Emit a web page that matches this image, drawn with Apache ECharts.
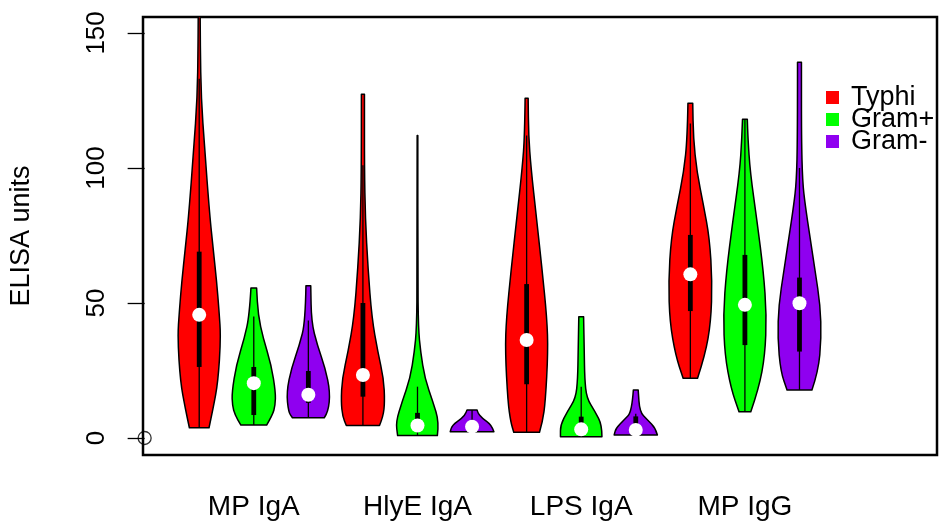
<!DOCTYPE html>
<html>
<head>
<meta charset="utf-8">
<script src="https://cdn.jsdelivr.net/npm/echarts@6/dist/echarts.min.js"></script>
<style>
  html, body { margin: 0; padding: 0; background: #fff; }
  #main { width: 939px; height: 522px; }
</style>
</head>
<body>
<div id="main"></div>
<script>
// groups on the x axis, one violin per organism in each group
const categories = ['MP IgA', 'HlyE IgA', 'LPS IgA', 'MP IgG'];
const groupNames = ['Typhi', 'Gram+', 'Gram-'];
const groupColors = ['#ff0000', '#00ff00', '#8f00f0'];
const yTicks = [0, 50, 100, 150];

// violin outlines: [ELISA value, relative density], bottom to top
const typhiShapes = [
  [[3.8, 0.45], [11, 0.64], [20.7, 0.86], [37, 0.99], [47, 0.91], [57.8, 0.80], [70, 0.64], [82.6, 0.48], [107, 0.25], [126, 0.09], [145, 0.05], [165, 0.04]],
  [[4.6, 0.76], [8, 0.93], [13.5, 1.0], [22, 0.95], [32, 0.68], [44.4, 0.41], [63, 0.23], [81.5, 0.11], [100, 0.07], [127.3, 0.07]],
  [[2.1, 0.59], [6, 0.73], [13.5, 0.86], [32, 0.98], [44.4, 0.93], [63, 0.70], [81.5, 0.45], [100, 0.2], [112, 0.09], [125.8, 0.07]],
  [[22.1, 0.33], [30.7, 0.68], [43, 0.94], [57.9, 1.0], [74, 0.88], [86.3, 0.6], [98.6, 0.3], [111, 0.14], [124, 0.11]]
];
const gramPosShapes = [
  [[4.8, 0.59], [8.5, 0.86], [12, 0.98], [17, 1.0], [27, 0.8], [37, 0.43], [45.5, 0.2], [55.5, 0.13]],
  [[0.9, 0.91], [6, 0.99], [13.5, 0.70], [22, 0.34], [32, 0.14], [40.7, 0.04], [60, 0.015], [112, 0.015]],
  [[0.5, 0.95], [4.8, 0.95], [9.7, 0.64], [14.8, 0.25], [22, 0.16], [32, 0.14], [44.9, 0.11]],
  [[9.7, 0.27], [18.4, 0.64], [30.7, 0.92], [45.6, 0.99], [61.6, 0.85], [80, 0.56], [98.6, 0.24], [111, 0.14], [118, 0.11]]
];
const gramNegShapes = [
  [[7.5, 0.73], [9.6, 0.91], [17, 1.0], [26, 0.77], [34.4, 0.41], [43, 0.14], [56.4, 0.11]],
  [[2.3, 1.0], [4.8, 0.91], [7.4, 0.45], [9.3, 0.27], [10.4, 0.23]],
  [[1.1, 0.99], [3.6, 0.91], [6.7, 0.53], [9.7, 0.18], [17.8, 0.11]],
  [[17.8, 0.57], [24.6, 0.86], [36.9, 1.0], [49.3, 0.95], [61.6, 0.72], [74, 0.49], [86.3, 0.26], [95, 0.14], [111, 0.09], [139.1, 0.09]]
];

// box stats: [lower whisker, q1, median, q3, upper whisker]
const typhiStats = [[3.8, 26.3, 45.6, 69, 133], [4.6, 15.3, 23.3, 50, 101], [2.1, 19.9, 36.3, 57, 112], [22.1, 47, 60.6, 75.2, 116.5]];
const gramPosStats = [[4.8, 8.5, 20.3, 26.3, 45], [0.9, 2.2, 4.6, 9.3, 19], [0.5, 2.3, 3.2, 7.9, 19], [9.7, 34.4, 49.3, 67.8, 118]];
const gramNegStats = [[7.5, 13, 16, 24.8, 43.5], [2.3, 3, 4.2, 5.5, 10.4], [1.1, 2.4, 3, 8, 9], [17.8, 32, 49.9, 59.4, 100]];

// the lone open circle drawn at the origin
const strayPoint = [[0, 0]];

const HALF = 0.4; // max half width of a violin in x units

function sidePath(pts) {
  let d = ' L' + pts[0][0] + ' ' + pts[0][1];
  for (let k = 1; k < pts.length - 1; k++) {
    const mx = (pts[k][0] + pts[k + 1][0]) / 2;
    const my = (pts[k][1] + pts[k + 1][1]) / 2;
    d += ' Q' + pts[k][0] + ' ' + pts[k][1] + ' ' + mx + ' ' + my;
  }
  const last = pts[pts.length - 1];
  return d + ' L' + last[0] + ' ' + last[1];
}

function violinRenderer(shapes, stats) {
  return function (params, api) {
    const i = params.dataIndex;
    const x = api.value(0);
    const prof = shapes[i];
    const right = prof.map(p => api.coord([x + p[1] * HALF, p[0]]));
    const left = prof.slice().reverse().map(p => api.coord([x - p[1] * HALF, p[0]]));
    const d = 'M' + right[0][0] + ' ' + right[0][1] + sidePath(right) + sidePath(left) + ' Z';
    const st = stats[i];
    const lo = api.coord([x, st[0]]);
    const q1 = api.coord([x, st[1]]);
    const med = api.coord([x, st[2]]);
    const q3 = api.coord([x, st[3]]);
    const hi = api.coord([x, st[4]]);
    return {
      type: 'group',
      children: [
        { type: 'path', shape: { pathData: d }, style: { fill: api.visual('color'), stroke: '#000', lineWidth: 1.5, lineJoin: 'round' } },
        { type: 'line', shape: { x1: lo[0], y1: lo[1], x2: hi[0], y2: hi[1] }, style: { stroke: '#000', lineWidth: 1.3 } },
        { type: 'rect', shape: { x: q1[0] - 2.4, y: q3[1], width: 4.8, height: q1[1] - q3[1] }, style: { fill: '#000' } },
        { type: 'circle', shape: { cx: med[0], cy: med[1], r: 7 }, style: { fill: '#fff' } }
      ]
    };
  };
}

const allShapes = [typhiShapes, gramPosShapes, gramNegShapes];
const allStats = [typhiStats, gramPosStats, gramNegStats];

const series = groupNames.map(function (name, s) {
  return {
    name: name,
    type: 'custom',
    clip: true,
    itemStyle: { color: groupColors[s] },
    encode: { x: 0, y: 1 },
    data: categories.map((c, g) => [g * 3 + s + 1, allStats[s][g][2]]),
    renderItem: violinRenderer(allShapes[s], allStats[s])
  };
});
series.push({
  type: 'scatter',
  data: strayPoint,
  symbol: 'circle',
  symbolSize: 13,
  z: -1,
  itemStyle: { color: 'rgba(0,0,0,0)', borderColor: '#000', borderWidth: 1.3 },
  silent: true
});

const chart = echarts.init(document.getElementById('main'));
chart.setOption({
  animation: false,
  textStyle: { fontFamily: 'Liberation Sans, Arial, sans-serif', color: '#000' },
  grid: { left: 143, right: 2, top: 17, bottom: 67, show: true, borderColor: '#000', borderWidth: 2.5 },
  legend: {
    data: groupNames,
    orient: 'vertical',
    left: 826,
    top: 84,
    padding: 0,
    itemGap: -5,
    itemWidth: 13,
    itemHeight: 13,
    icon: 'rect',
    textStyle: { fontSize: 27, color: '#000', padding: [0, 0, 0, 7] }
  },
  xAxis: {
    type: 'value',
    min: -0.03,
    max: 14.52,
    axisLine: { show: false },
    axisTick: { show: false },
    splitLine: { show: false },
    axisLabel: {
      customValues: [2, 5, 8, 11],
      formatter: v => categories[Math.round((v - 2) / 3)],
      fontSize: 28,
      color: '#000',
      margin: 38
    }
  },
  yAxis: {
    type: 'value',
    min: -6.3,
    max: 155.9,
    name: 'ELISA units',
    nameLocation: 'middle',
    nameGap: 108,
    nameTextStyle: { fontSize: 27, color: '#000' },
    axisLine: { show: false },
    splitLine: { show: false },
    axisTick: { customValues: yTicks, length: 17, lineStyle: { color: '#000', width: 1.3 } },
    axisLabel: { customValues: yTicks, rotate: 90, fontSize: 26, color: '#000', margin: 33 }
  },
  series: series
});
</script>
</body>
</html>
